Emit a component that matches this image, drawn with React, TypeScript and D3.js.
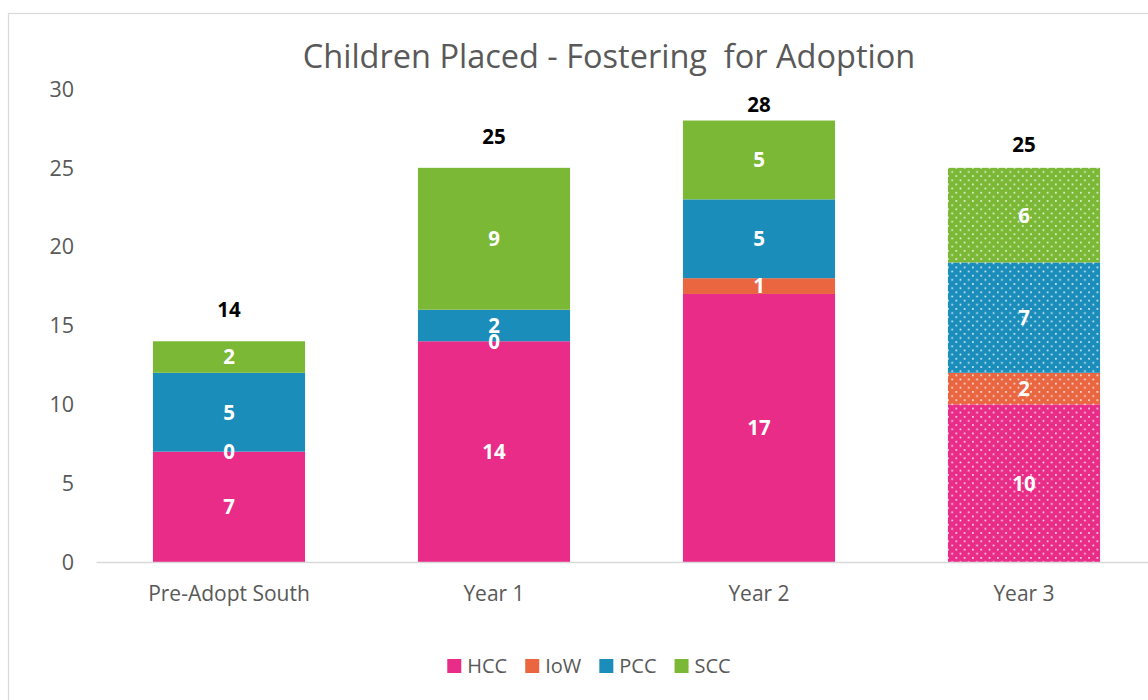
import React, { useEffect, useRef } from 'react';
import * as d3 from 'd3';

const categories = ['Pre-Adopt South', 'Year 1', 'Year 2', 'Year 3'];
const seriesNames = ['HCC', 'IoW', 'PCC', 'SCC'];
const hccValues = [7, 14, 17, 10];
const iowValues = [0, 0, 1, 2];
const pccValues = [5, 2, 5, 7];
const sccValues = [2, 9, 5, 6];
const totals = [14, 25, 28, 25];
// where the total labels sit, in axis units
const totalLabelAt = [16, 27, 29, 26.5];
const yTicks = [0, 5, 10, 15, 20, 25, 30];
const patternedCategory = 'Year 3';

const colors = ['#E82C87', '#EA6641', '#1A8DBB', '#7AB835'];
const font = '"Open Sans", sans-serif';

function App() {
    const ref = useRef<SVGSVGElement>(null);

    useEffect(() => {
        drawChart();
    });

    function drawChart() {
        const svg = d3.select(ref.current);
        svg.selectAll('*').remove();

        // Outer chart border (runs off the right and bottom edge)
        svg.append('rect')
            .attr('x', 8.5)
            .attr('y', 13.5)
            .attr('width', 1200)
            .attr('height', 760)
            .attr('fill', '#ffffff')
            .attr('stroke', '#d9d9d9')
            .attr('stroke-width', 1.2);

        // Dotted patterns
        const defs = svg.append('defs');
        colors.forEach((c, i) => {
            const p = defs.append('pattern')
                .attr('id', 'dots-' + i)
                .attr('patternUnits', 'userSpaceOnUse')
                .attr('width', 8.3)
                .attr('height', 8.3);
            p.append('rect').attr('width', 8.3).attr('height', 8.3).attr('fill', c);
            p.append('rect').attr('x', 1).attr('y', 1).attr('width', 1.6).attr('height', 1.6).attr('fill', '#ffffff').attr('opacity', 0.9);
            p.append('rect').attr('x', 5.15).attr('y', 5.15).attr('width', 1.6).attr('height', 1.6).attr('fill', '#ffffff').attr('opacity', 0.9);
        });

        const x = d3.scaleBand()
            .domain(categories)
            .range([96.5, 1156.5])
            .paddingInner(0.426)
            .paddingOuter(0.213);

        const y = d3.scaleLinear()
            .domain([0, 30])
            .range([562, 89]);

        // Title
        svg.append('text')
            .attr('x', 609)
            .attr('y', 58)
            .attr('dy', '0.32em')
            .attr('text-anchor', 'middle')
            .style('font-family', font)
            .style('font-size', '32.5px')
            .style('fill', '#595959')
            .style('white-space', 'pre')
            .text('Children Placed - Fostering  for Adoption');

        // Y tick labels
        svg.append('g')
            .selectAll('text')
            .data(yTicks)
            .enter()
            .append('text')
            .attr('x', 74)
            .attr('y', d => y(d))
            .attr('dy', '0.36em')
            .attr('text-anchor', 'end')
            .style('font-family', font)
            .style('font-size', '21.5px')
            .style('fill', '#595959')
            .text(d => d);

        // Stacked bars
        const rows = categories.map((c, i) => ({
            category: c,
            HCC: hccValues[i],
            IoW: iowValues[i],
            PCC: pccValues[i],
            SCC: sccValues[i],
        }));
        const stack = d3.stack<any>().keys(seriesNames)(rows);

        stack.forEach((layer, si) => {
            const g = svg.append('g');
            g.selectAll('rect')
                .data(layer)
                .enter()
                .append('rect')
                .attr('x', d => x(d.data.category) as number)
                .attr('width', x.bandwidth())
                .attr('y', d => y(d[1]))
                .attr('height', d => y(d[0]) - y(d[1]))
                .attr('fill', d => d.data.category === patternedCategory ? `url(#dots-${si})` : colors[si]);
        });

        // X axis line
        svg.append('line')
            .attr('x1', 96.5)
            .attr('x2', 1156.5)
            .attr('y1', 562.5)
            .attr('y2', 562.5)
            .attr('stroke', '#d9d9d9')
            .attr('stroke-width', 1.5);

        // Segment labels
        stack.forEach((layer) => {
            svg.append('g')
                .selectAll('text')
                .data(layer)
                .enter()
                .append('text')
                .attr('x', d => (x(d.data.category) as number) + x.bandwidth() / 2)
                .attr('y', d => y((d[0] + d[1]) / 2))
                .attr('dy', '0.36em')
                .attr('text-anchor', 'middle')
                .style('font-family', font)
                .style('font-size', '20.5px')
                .style('font-weight', 'bold')
                .style('fill', '#ffffff')
                .text(d => d[1] - d[0]);
        });

        // Total labels
        svg.append('g')
            .selectAll('text')
            .data(totals)
            .enter()
            .append('text')
            .attr('x', (_, i) => (x(categories[i]) as number) + x.bandwidth() / 2)
            .attr('y', (_, i) => y(totalLabelAt[i]))
            .attr('dy', '0.36em')
            .attr('text-anchor', 'middle')
            .style('font-family', font)
            .style('font-size', '20.5px')
            .style('font-weight', 'bold')
            .style('fill', '#000000')
            .text(d => d);

        // X labels
        svg.append('g')
            .selectAll('text')
            .data(categories)
            .enter()
            .append('text')
            .attr('x', d => (x(d) as number) + x.bandwidth() / 2)
            .attr('y', 593)
            .attr('dy', '0.36em')
            .attr('text-anchor', 'middle')
            .style('font-family', font)
            .style('font-size', '21px')
            .style('fill', '#595959')
            .text(d => d);

        // Legend
        const legend = svg.append('g');
        const items = seriesNames.map((name, i) => {
            const item = legend.append('g');
            item.append('rect')
                .attr('width', 14)
                .attr('height', 14)
                .attr('y', -7)
                .attr('fill', colors[i]);
            const t = item.append('text')
                .attr('x', 20)
                .attr('dy', '0.36em')
                .style('font-family', font)
                .style('font-size', '20px')
                .style('fill', '#595959')
                .text(name);
            const w = 20 + (t.node() as SVGTextElement).getComputedTextLength();
            return { item, w };
        });
        const gap = 18;
        const totalW = d3.sum(items, d => d.w) + gap * (items.length - 1);
        let cx = 589 - totalW / 2;
        items.forEach(({ item, w }) => {
            item.attr('transform', `translate(${cx}, 666)`);
            cx += w + gap;
        });
    }

    return (
        <svg
            ref={ref}
            width={1148}
            height={700}
            style={{ position: 'fixed', left: 0, top: 0, display: 'block', background: '#ffffff' }}
        />
    );
}

export default App;
